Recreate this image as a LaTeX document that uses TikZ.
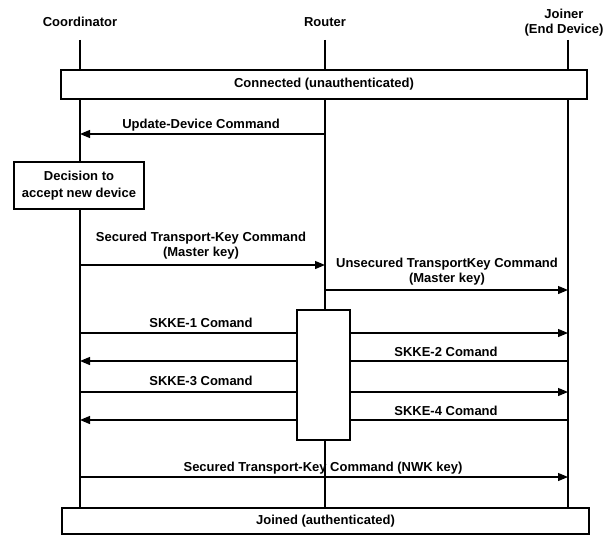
\documentclass[tikz,border=0pt]{standalone}
\usepackage{fontspec}
\setmainfont{Liberation Sans}
\usetikzlibrary{arrows.meta}
\begin{document}
\begin{tikzpicture}[x=1pt,y=-1pt,
  every node/.style={font=\bfseries\fontsize{13}{15}\selectfont, inner sep=0pt},
  msg/.style={line width=1.2pt,-{Triangle[length=10pt,width=8pt]}},
  life/.style={line width=1.1pt},
  bar/.style={draw,line width=1.5pt,fill=white},
  lbl/.style={anchor=base}]
\useasboundingbox (0,0) rectangle (614,535);
% heads
\node (C) at (80,22) {Coordinator};
\node (R) at (325,22) {Router};
\node[align=center] (J) at (564,22.9) {Joiner\\(End Device)};
% lifeline ends
\coordinate (Ct) at (80,40);  \coordinate (Cb) at (80,508);
\coordinate (Rt) at (325,40); \coordinate (Rb) at (325,508);
\coordinate (Jt) at (568,40); \coordinate (Jb) at (568,508);
\draw[life] (Ct) -- (Cb);
\draw[life] (Rt) -- (Rb);
\draw[life] (Jt) -- (Jb);
% messages
\draw[msg] (Rt |- 0,134) -- (Ct |- 0,134);
\node[lbl] (l1) at (201,128.5) {Update-Device Command};
\draw[msg] (Ct |- 0,265) -- (Rt |- 0,265);
\node[align=center] (l2) at (201,245.9) {Secured Transport-Key Command\\(Master key)};
\draw[msg] (Rt |- 0,290) -- (Jt |- 0,290);
\node[align=center] (l3) at (447,271.9) {Unsecured TransportKey Command\\(Master key)};
\draw[msg] (Ct |- 0,333) -- (Jt |- 0,333);
\node[lbl] (l4) at (201,327.5) {SKKE-1 Comand};
\draw[msg] (Jt |- 0,361) -- (Ct |- 0,361);
\node[lbl] (l5) at (446,356.5) {SKKE-2 Comand};
\draw[msg] (Ct |- 0,392) -- (Jt |- 0,392);
\node[lbl] (l6) at (201,385.5) {SKKE-3 Comand};
\draw[msg] (Jt |- 0,420) -- (Ct |- 0,420);
\node[lbl] (l7) at (446,415.5) {SKKE-4 Comand};
\draw[msg] (Ct |- 0,477) -- (Jt |- 0,477);
\node[lbl] (l8) at (323,471.5) {Secured Transport-Key Command (NWK key)};
% boxes
\node[bar, minimum width=526pt, minimum height=29pt] (conn) at (324,84.5) {Connected (unauthenticated)};
\node[bar, minimum width=130pt, minimum height=47pt, align=center, font=\bfseries\fontsize{13}{17}\selectfont] (dec) at (79,185.5) {Decision to\\accept new device};
\node[bar, minimum width=53pt, minimum height=130pt] (act) at (323.5,375) {};
\node[bar, minimum width=527pt, minimum height=26pt] (join) at (325.5,521) {Joined (authenticated)};
\end{tikzpicture}
\end{document}
